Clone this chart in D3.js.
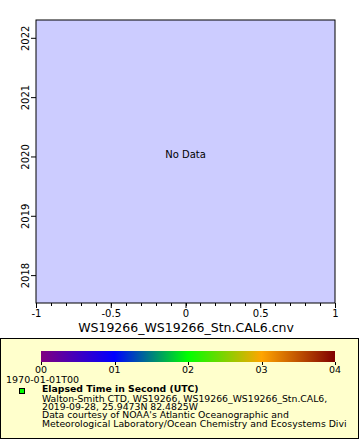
<!DOCTYPE html>
<html><head><meta charset="utf-8">
<script src="https://cdn.jsdelivr.net/npm/d3@7"></script>
<style>body{margin:0;background:#fff;}svg{display:block;font-family:"DejaVu Sans",sans-serif;}</style>
</head><body>
<svg id="c" width="360" height="440"></svg>
<script>
const xDomain = [-1, 1];
const xTicks = [-1, -0.5, 0, 0.5, 1];
const xTickLabels = ["-1", "-0.5", "0", "0.5", "1"];
const yDomain = [2017.53, 2022.3];
const yTicks = [2018, 2019, 2020, 2021, 2022];
const colorStops = [0, 1, 2, 3, 4];
const colorLabels = ["00", "01", "02", "03", "04"];
const colorValues = ["#800080", "#0000ff", "#00ff00", "#ffa500", "#800000"];
const xTitle = "WS19266_WS19266_Stn.CAL6.cnv";
const legendLines = [
  "Walton-Smith CTD, WS19266, WS19266_WS19266_Stn.CAL6,",
  "2019-09-28, 25.9473N 82.4825W",
  "Data courtesy of NOAA's Atlantic Oceanographic and",
  "Meteorological Laboratory/Ocean Chemistry and Ecosystems Divi"
];

const svg = d3.select("#c");
const L = 36, R = 335, T = 20, B = 303;
const x = d3.scaleLinear().domain(xDomain).range([L, R]);
const y = d3.scaleLinear().domain(yDomain).range([B, T]);

svg.append("rect").attr("x", L).attr("y", T).attr("width", R - L).attr("height", B - T)
  .attr("fill", "#ccccff").attr("stroke", "#000").attr("stroke-width", 1);

// x minor ticks
const minor = d3.range(-10, 11).map(d => d / 10);
svg.append("g").selectAll("line").data(minor).join("line")
  .attr("x1", d => Math.round(x(d)) + 0.5).attr("x2", d => Math.round(x(d)) + 0.5)
  .attr("y1", B).attr("y2", B + 3).attr("stroke", "#000");
const xa = svg.append("g").attr("transform", `translate(0,${B})`)
  .call(d3.axisBottom(x).tickValues(xTicks).tickFormat((d, i) => xTickLabels[i]).tickSize(5).tickSizeOuter(0));
xa.select(".domain").remove();
xa.selectAll("text").attr("font-size", 10).attr("font-family", "DejaVu Sans").attr("dy", "0.75em").attr("y", 6);

const ya = svg.append("g").attr("transform", `translate(${L},0)`)
  .call(d3.axisLeft(y).tickValues(yTicks).tickFormat(d3.format("d")).tickSize(5).tickSizeOuter(0));
ya.select(".domain").remove();
ya.selectAll("text").attr("font-size", 10).attr("font-family", "DejaVu Sans")
  .attr("transform", "rotate(-90)").attr("x", 0).attr("y", -7).attr("dy", 0).attr("text-anchor", "middle");

svg.append("text").attr("x", (L + R) / 2).attr("y", 158).attr("text-anchor", "middle")
  .attr("font-size", 10).text("No Data");

svg.append("text").attr("x", 186).attr("y", 332).attr("text-anchor", "middle")
  .attr("font-size", 12.5).text(xTitle);

// legend
svg.append("rect").attr("x", 0.5).attr("y", 338.5).attr("width", 358).attr("height", 100)
  .attr("fill", "#ffffcc").attr("stroke", "#000");

const c = d3.scaleLinear().domain([0, 4]).range([41, 335]);
const grad = svg.append("defs").append("linearGradient").attr("id", "g");
grad.selectAll("stop").data(colorStops).join("stop")
  .attr("offset", d => (d / 4 * 100) + "%").attr("stop-color", (d, i) => colorValues[i]);
svg.append("rect").attr("x", c(0)).attr("y", 351).attr("width", c(4) - c(0)).attr("height", 11)
  .attr("fill", "url(#g)");
svg.append("g").selectAll("line").data(colorStops).join("line")
  .attr("x1", d => Math.round(c(d)) + 0.5).attr("x2", d => Math.round(c(d)) + 0.5)
  .attr("y1", 362).attr("y2", 365).attr("stroke", "#000");
svg.append("g").selectAll("text").data(colorStops).join("text")
  .attr("x", d => c(d)).attr("y", 373).attr("text-anchor", "middle").attr("font-size", 9.5)
  .text((d, i) => colorLabels[i]);
svg.append("text").attr("x", 6).attr("y", 382.5).attr("font-size", 9.5).text("1970-01-01T00");

svg.append("rect").attr("x", 19.5).attr("y", 388.5).attr("width", 5).attr("height", 5)
  .attr("fill", "#00ff00").attr("stroke", "#000");
svg.append("text").attr("x", 42).attr("y", 392.3).attr("font-size", 9.3).attr("font-weight", "bold")
  .text("Elapsed Time in Second (UTC)");
svg.append("g").selectAll("text").data(legendLines).join("text")
  .attr("x", 42).attr("y", (d, i) => 401.7 + i * 8.35).attr("font-size", 9.3).text(d => d);
</script>
</body></html>
